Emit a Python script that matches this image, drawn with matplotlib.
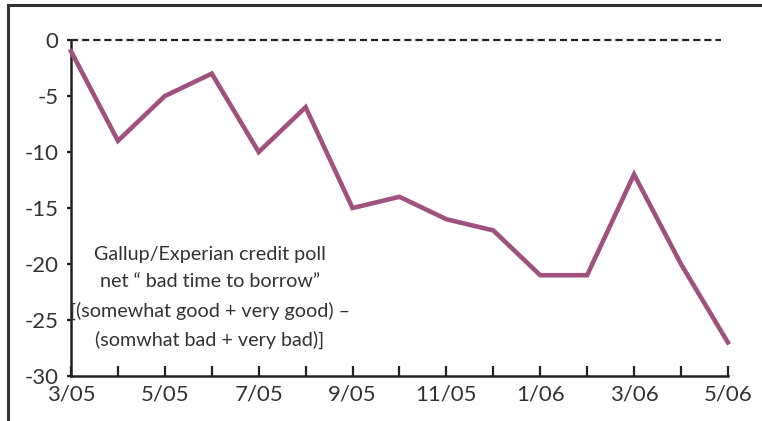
import matplotlib.pyplot as plt
from matplotlib.patches import Rectangle

# data
months = ['3/05', '4/05', '5/05', '6/05', '7/05', '8/05', '9/05', '10/05',
          '11/05', '12/05', '1/06', '2/06', '3/06', '4/06', '5/06']
net_borrow = [-1, -9, -5, -3, -10, -6, -15, -14, -16, -17, -21, -21, -12, -20, -27]
y_ticks = [0, -5, -10, -15, -20, -25, -30]

font = 'Lato'
txt_color = '#333333'
line_color = '#A0527E'

fig = plt.figure(figsize=(7.62, 4.21), dpi=100)
ax = fig.add_axes([0.0932, 0.1069, 0.862, 0.798])

x = list(range(len(months)))
ax.plot(x, net_borrow, color=line_color, lw=3.3, clip_on=False, zorder=3,
        solid_joinstyle='miter')
ax.hlines(0, 0, len(months) - 1.15, colors='#222222', linestyles=(0, (3.2, 1.8)),
          lw=1.6, clip_on=False, zorder=2)

ax.set_xlim(0, len(months) - 1)
ax.set_ylim(-30, 0)

ax.set_xticks(x)
ax.set_xticklabels([m if i % 2 == 0 else '' for i, m in enumerate(months)])
ax.set_yticks(y_ticks)
ax.set_yticklabels([str(v) for v in y_ticks])

ax.tick_params(axis='x', direction='in', length=7, width=1.6, color='#222222',
               pad=6, labelsize=16, labelcolor=txt_color)
ax.tick_params(axis='y', direction='out', length=3, width=1.6, color='#222222',
               pad=6, labelsize=16, labelcolor=txt_color)
for lab in ax.get_xticklabels() + ax.get_yticklabels():
    lab.set_family(font)

for s in ['top', 'right']:
    ax.spines[s].set_visible(False)
for s in ['left', 'bottom']:
    ax.spines[s].set_linewidth(1.8)
    ax.spines[s].set_color('#222222')

ax.text(2.96, -23.0,
        'Gallup/Experian credit poll\nnet \u201c bad time to borrow\u201d\n'
        '[(somewhat good + very good) \u2013\n(somwhat bad + very bad)]',
        ha='center', va='center', multialignment='center', fontsize=14.2,
        family=font, color=txt_color, linespacing=1.75)

# outer frame (top and left edges only visible)
fig.add_artist(Rectangle((8 / 762, -0.1), 1.2, 1.1 - 5 / 421, transform=fig.transFigure,
                         fill=False, lw=2.2, edgecolor='#333333'))

fig.savefig('out.png', dpi=100)
